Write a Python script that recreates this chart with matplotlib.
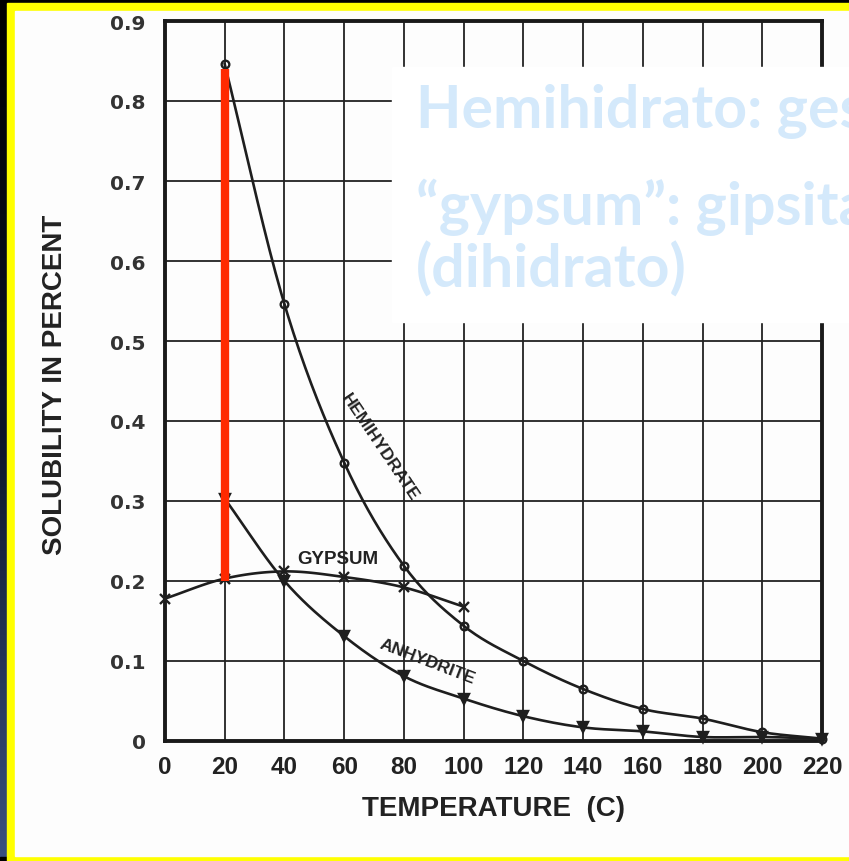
import numpy as np
import matplotlib
matplotlib.use("Agg")
import matplotlib.pyplot as plt
from matplotlib.patches import Rectangle
from matplotlib.colors import LinearSegmentedColormap

# ---------------- data ----------------
temps_hemi = [20, 40, 60, 80, 100, 120, 140, 160, 180, 200, 220]
hemihydrate = [0.846, 0.546, 0.348, 0.219, 0.144, 0.100, 0.065, 0.040, 0.028, 0.011, 0.003]

temps_gyp = [0, 20, 40, 60, 80, 100]
gypsum = [0.178, 0.203, 0.212, 0.205, 0.192, 0.168]

temps_anh = [20, 40, 60, 80, 100, 120, 140, 160, 180, 200, 220]
anhydrite = [0.303, 0.200, 0.131, 0.081, 0.053, 0.031, 0.017, 0.012, 0.005, 0.005, 0.003]

highlight_x = 20
highlight_range = [0.2, 0.84]

x_ticks = [0, 20, 40, 60, 80, 100, 120, 140, 160, 180, 200, 220]
y_ticks = [0, 0.1, 0.2, 0.3, 0.4, 0.5, 0.6, 0.7, 0.8, 0.9]
y_ticklabels = ["0", "0.1", "0.2", "0.3", "0.4", "0.5", "0.6", "0.7", "0.8", "0.9"]

overlay_lines = ["Hemihidrato: gesso", "\u201cgypsum\u201d: gipsita", "(dihidrato)"]

W, H = 849, 862
fig = plt.figure(figsize=(W / 100, H / 100), dpi=100)
fig.patch.set_facecolor("black")

# background: dark gradient strip on the left, yellow frame, white page
bg = fig.add_axes([0, 0, 1, 1], zorder=-10)
grad = np.linspace(0, 1, 256).reshape(-1, 1)
cm = LinearSegmentedColormap.from_list("g", ["#000000", "#0c1428", "#3a5180"])
bg.imshow(grad, aspect="auto", cmap=cm, extent=[0, 1, 0, 1], origin="upper")
bg.set_xlim(0, 1); bg.set_ylim(0, 1); bg.axis("off")
fig.patches.append(Rectangle((0, 0), 1, 4 / H, transform=fig.transFigure, color="black", zorder=-9))
fig.patches.append(Rectangle((7 / W, 0), 1, (H - 4) / H, transform=fig.transFigure,
                             color="#ffff00", zorder=-8))
fig.patches.append(Rectangle((15 / W, 5 / H), 1, (H - 17) / H, transform=fig.transFigure,
                             color="#fdfdfd", zorder=-7))

# ---------------- chart ----------------
x0, x1 = 165, 822
y0, y1 = 742, 22
ax = fig.add_axes([x0 / W, (H - y0) / H, (x1 - x0) / W, (y0 - y1) / H])
ax.set_facecolor("none")
ax.set_xlim(0, 220)
ax.set_ylim(0, 0.9)
ax.set_xticks(x_ticks)
ax.set_yticks(y_ticks)
ax.set_xticklabels([str(t) for t in x_ticks], family=["Liberation Sans"],
                   fontweight="bold", fontsize=17.5, color="#222222")
ax.set_yticklabels(y_ticklabels, family=["DejaVu Sans"], fontweight="bold", fontsize=14.5, color="#333333")
ax.tick_params(length=0, pad=10)
ax.tick_params(axis="y", pad=14)
ax.grid(True, color="#222222", linewidth=1.3)
ax.set_axisbelow(True)
for s in ax.spines.values():
    s.set_linewidth(2.8)
    s.set_color("#1a1a1a")


def smooth(xs, ys, n=20):
    xs = np.asarray(xs, float); ys = np.asarray(ys, float)
    px = np.concatenate([[2 * xs[0] - xs[1]], xs, [2 * xs[-1] - xs[-2]]])
    py = np.concatenate([[2 * ys[0] - ys[1]], ys, [2 * ys[-1] - ys[-2]]])
    ox, oy = [], []
    for i in range(1, len(px) - 2):
        t = np.linspace(0, 1, n, endpoint=False)
        for arr, out in ((px, ox), (py, oy)):
            p0, p1, p2, p3 = arr[i - 1], arr[i], arr[i + 1], arr[i + 2]
            out.extend(0.5 * ((2 * p1) + (-p0 + p2) * t + (2 * p0 - 5 * p1 + 4 * p2 - p3) * t ** 2
                              + (-p0 + 3 * p1 - 3 * p2 + p3) * t ** 3))
    ox.append(xs[-1]); oy.append(ys[-1])
    return np.array(ox), np.array(oy)


lc = "#1e1e1e"
for xs, ys, mk, ms, mfc in ((temps_hemi, hemihydrate, "o", 5.5, "none"),
                            (temps_gyp, gypsum, "x", 7, lc),
                            (temps_anh, anhydrite, "v", 7.5, lc)):
    sx, sy = smooth(xs, ys)
    ax.plot(sx, sy, color=lc, linewidth=1.9, zorder=3, clip_on=False)
    ax.plot(xs, ys, linestyle="none", marker=mk, markersize=ms, markerfacecolor=mfc,
            markeredgecolor=lc, markeredgewidth=1.7, zorder=4, clip_on=False)

ax.vlines(highlight_x, highlight_range[0], highlight_range[1], color="#ff2a00", linewidth=6, zorder=5)

lab_font = dict(family=["Liberation Sans"], fontweight="bold", color="#222222")
ax.text(72, 0.3675, "HEMIHYDRATE", rotation=-56, ha="center", va="center", fontsize=12.5, **lab_font)
ax.text(57.8, 0.2275, "GYPSUM", ha="center", va="center", fontsize=13.5, **lab_font)
ax.text(88, 0.10, "ANHYDRITE", rotation=-21, ha="center", va="center", fontsize=12.5, **lab_font)

ax.set_xlabel("TEMPERATURE  (C)", fontsize=20, labelpad=12, **lab_font)
fig.text(55 / W, 1 - 385 / H, "SOLUBILITY IN PERCENT", rotation=90, ha="center", va="center",
         fontsize=20, **lab_font)

# ---------------- overlay text box ----------------
fig.patches.append(Rectangle((392 / W, 1 - 323 / H), 1, (323 - 68) / H, transform=fig.transFigure,
                             color="white", zorder=10))
for txt, base in zip(overlay_lines, [128, 225, 288]):
    fig.text(416 / W, 1 - base / H, txt, ha="left", va="baseline", fontsize=42.5,
             family=["Lato", "Noto Sans", "DejaVu Sans"], fontweight="bold", color="#d4e9fb", zorder=11)

fig.savefig("out.png", dpi=100, facecolor=fig.get_facecolor())
